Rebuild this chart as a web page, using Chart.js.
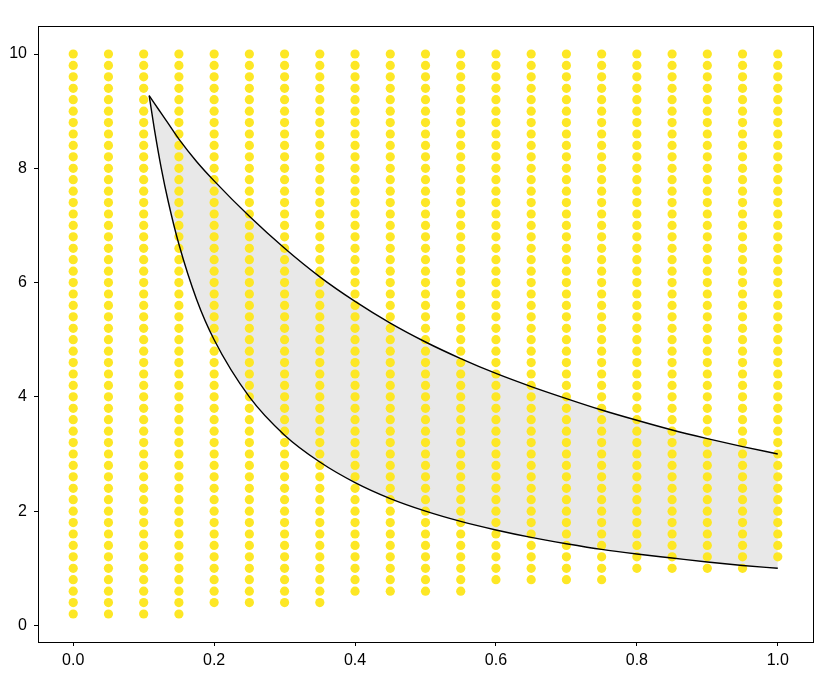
<!DOCTYPE html>
<html>
<head>
<meta charset="utf-8">
<title>Region between curves</title>
<script src="https://cdn.jsdelivr.net/npm/chart.js@4.4.1/dist/chart.umd.min.js"></script>
<style>
  body { margin: 0; background: #fff; }
  #wrap { width: 837px; height: 677px; }
</style>
</head>
<body>
<div id="wrap"><canvas id="regionChart" width="837" height="677"></canvas></div>
<script>
// grid of sample points: one column per x, each column starts at its own y and runs up to 10
const columnX = [0, 0.05, 0.1, 0.15, 0.2, 0.25, 0.3, 0.35, 0.4, 0.45, 0.5, 0.55, 0.6, 0.65, 0.7, 0.75, 0.8, 0.85, 0.9, 0.95, 1.0];
const columnStart = [0.2, 0.2, 0.2, 0.2, 0.4, 0.4, 0.4, 0.4, 0.6, 0.6, 0.6, 0.6, 0.8, 0.8, 0.8, 0.8, 1.0, 1.0, 1.0, 1.0, 1.2];
const yLevels = [0.2, 0.4, 0.6, 0.8, 1.0, 1.2, 1.4, 1.6, 1.8, 2.0,
  2.2, 2.4, 2.6, 2.8, 3.0, 3.2, 3.4, 3.6, 3.8, 4.0,
  4.2, 4.4, 4.6, 4.8, 5.0, 5.2, 5.4, 5.6, 5.8, 6.0,
  6.2, 6.4, 6.6, 6.8, 7.0, 7.2, 7.4, 7.6, 7.8, 8.0,
  8.2, 8.4, 8.6, 8.8, 9.0, 9.2, 9.4, 9.6, 9.8, 10.0];

// boundary curves of the shaded region
const curveX = [0.1078, 0.115, 0.125, 0.135, 0.15, 0.175, 0.2, 0.25, 0.3, 0.35, 0.4, 0.45, 0.5, 0.55, 0.6, 0.65, 0.7, 0.75, 0.8, 0.85, 0.9, 0.95, 1.0];
const upperY = [9.27, 9.14, 8.96, 8.78, 8.51, 8.12, 7.78, 7.16, 6.60, 6.10, 5.67, 5.29, 4.96, 4.67, 4.41, 4.18, 3.97, 3.77, 3.59, 3.42, 3.27, 3.13, 3.0];
const lowerY = [9.27, 8.70, 8.00, 7.41, 6.67, 5.71, 5.00, 4.00, 3.33, 2.86, 2.50, 2.22, 2.00, 1.82, 1.67, 1.54, 1.43, 1.33, 1.25, 1.18, 1.11, 1.05, 1.0];

const xTicks = [0, 0.2, 0.4, 0.6, 0.8, 1.0];
const yTicks = [0, 2, 4, 6, 8, 10];

var gridPoints = [];
columnX.forEach(function (x, i) {
  yLevels.forEach(function (y) {
    if (y >= columnStart[i] - 1e-9) gridPoints.push({ x: x, y: y });
  });
});

function toPoints(xs, ys) {
  return xs.map(function (x, i) { return { x: x, y: ys[i] }; });
}

// box around the plot area (matplotlib style spines)
const frame = {
  id: "frame",
  afterDraw: function (chart) {
    var a = chart.chartArea, c = chart.ctx;
    c.save();
    c.strokeStyle = "#000";
    c.lineWidth = 1;
    c.strokeRect(Math.round(a.left) + 0.5, Math.round(a.top) + 0.5, Math.round(a.right - a.left), Math.round(a.bottom - a.top));
    c.restore();
  }
};

const tickFont = { family: "'Liberation Sans', Arial, sans-serif", size: 16 };

const ctx = document.getElementById("regionChart").getContext("2d");
const regionChart = new Chart(ctx, {
  type: "scatter",
  data: {
    datasets: [
      {
        type: "line",
        label: "upper",
        data: toPoints(curveX, upperY),
        borderColor: "#000",
        borderWidth: 1.4,
        pointRadius: 0,
        cubicInterpolationMode: "monotone",
        fill: "+1",
        backgroundColor: "rgb(232,232,232)",
      },
      {
        type: "line",
        label: "lower",
        data: toPoints(curveX, lowerY),
        borderColor: "#000",
        borderWidth: 1.4,
        pointRadius: 0,
        cubicInterpolationMode: "monotone",
        fill: false,
      },
      {
        label: "points",
        data: gridPoints,
        backgroundColor: "#fde725",
        borderWidth: 0,
        pointRadius: 4.6,
        pointHoverRadius: 4.6,
      },
    ],
  },
  options: {
    responsive: false,
    animation: false,
    events: [],
    layout: { padding: { left: 0, top: 26, right: 24, bottom: 0 } },
    plugins: {
      legend: { display: false },
      tooltip: { enabled: false },
      filler: { drawTime: "beforeDatasetsDraw" },
    },
    scales: {
      x: {
        type: "linear",
        min: -0.05,
        max: 1.05,
        afterBuildTicks: function (scale) {
          scale.ticks = xTicks.map(function (v) { return { value: v }; });
        },
        afterFit: function (scale) { scale.height = 35; },
        ticks: {
          color: "#000",
          font: tickFont,
          padding: 5,
          maxRotation: 0,
          callback: function (v) { return v.toFixed(1); },
        },
        grid: { drawOnChartArea: false, tickLength: 4, color: "#000" },
        border: { display: true, color: "#000", width: 1 },
      },
      y: {
        type: "linear",
        min: -0.29,
        max: 10.49,
        afterBuildTicks: function (scale) {
          scale.ticks = yTicks.map(function (v) { return { value: v }; });
        },
        afterFit: function (scale) { scale.width = 38; },
        ticks: {
          color: "#000",
          font: tickFont,
          padding: 7,
          callback: function (v) { return String(v); },
        },
        grid: { drawOnChartArea: false, tickLength: 4, color: "#000" },
        border: { display: true, color: "#000", width: 1 },
      },
    },
  },
  plugins: [frame],
});
</script>
</body>
</html>
